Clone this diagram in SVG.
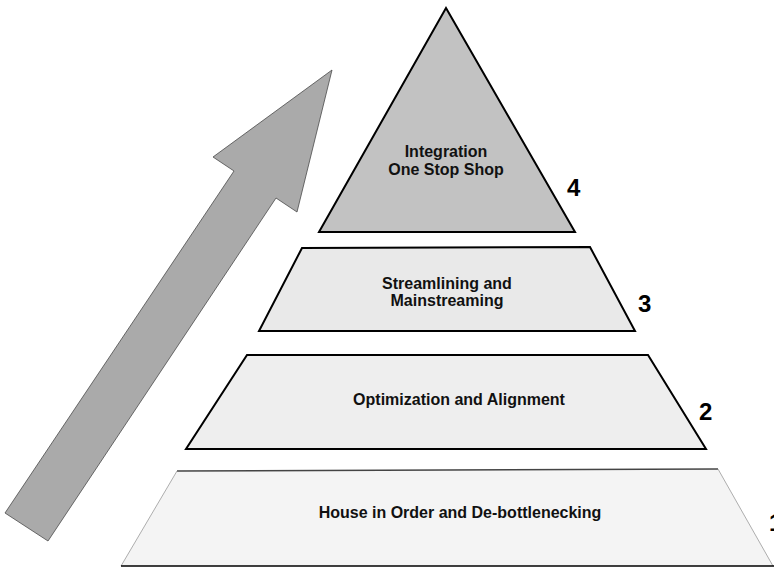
<svg xmlns="http://www.w3.org/2000/svg" width="774" height="569" viewBox="0 0 774 569">
<style>
.lbl{font-family:"Liberation Sans",Arial,sans-serif;font-weight:bold;font-size:16px;fill:#111;text-anchor:middle}
.num{font-family:"Liberation Sans",Arial,sans-serif;font-weight:bold;font-size:24px;fill:#000}
.lvl{stroke:#000;stroke-width:2;stroke-linejoin:miter}
</style>
<rect width="774" height="569" fill="#fff"/>
<g id="arrow">
<polygon points="5,513 48,541 276,198 297,212 332,70 213,157 234,171" fill="#aaaaaa" stroke="#4a4a4a" stroke-width="0.8"/>
</g>
<g id="level4">
<polygon class="lvl" points="446,8 575,232 319,232" fill="#c2c2c2"/>
<text class="lbl" x="446" y="157">Integration</text>
<text class="lbl" x="446" y="175">One Stop Shop</text>
<text class="num" x="567" y="196">4</text>
</g>
<g id="level3">
<polygon class="lvl" points="302,248 590,247 635,331 259,331" fill="#e9e9e9"/>
<text class="lbl" x="447" y="289">Streamlining and</text>
<text class="lbl" x="447" y="306">Mainstreaming</text>
<text class="num" x="638" y="312">3</text>
</g>
<g id="level2">
<polygon class="lvl" points="247,355 648,355 706,449 186,449" fill="#eeeeee"/>
<text class="lbl" x="459" y="405">Optimization and Alignment</text>
<text class="num" x="699" y="420">2</text>
</g>
<g id="level1">
<polygon points="177,471 718,469 773,566 121,566" fill="#f4f4f4"/>
<line x1="177" y1="471" x2="718" y2="469" stroke="#444" stroke-width="1.5"/>
<line x1="177" y1="471" x2="121" y2="566" stroke="#999" stroke-width="0.8"/>
<line x1="718" y1="469" x2="773" y2="566" stroke="#999" stroke-width="0.8"/>
<line x1="121" y1="566" x2="774" y2="566" stroke="#000" stroke-width="1.5"/>
<text class="lbl" x="460" y="518">House in Order and De-bottlenecking</text>
<text class="num" x="769" y="531">1</text>
</g>
<g id="connectors"/>
</svg>
